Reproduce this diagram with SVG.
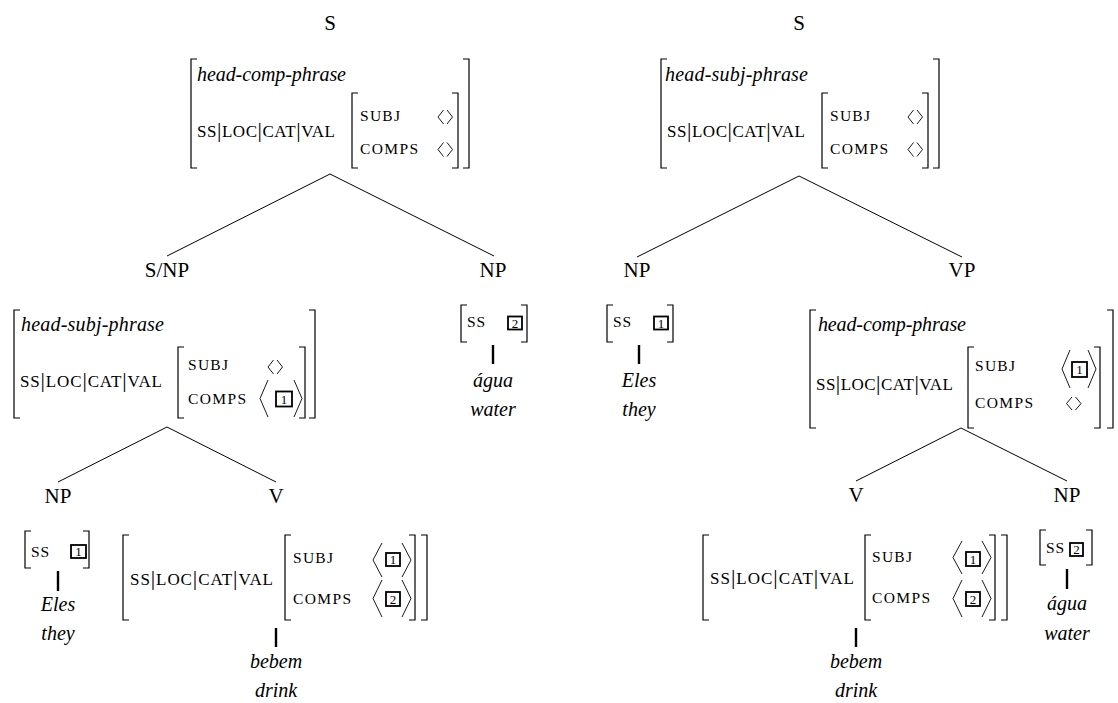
<svg xmlns="http://www.w3.org/2000/svg" width="1118" height="703" viewBox="0 0 1118 703">
<style>
text{font-family:"Liberation Serif","DejaVu Serif",serif;fill:#000}
.lbl{font-size:21px;text-anchor:middle}
.it{font-style:italic;font-size:20px}
.itc{font-style:italic;font-size:20px;text-anchor:middle}
.pth{font-size:17px}
.bar{font-size:22px}
.sc{font-size:15.5px}
.num{font-size:13px;text-anchor:middle}
.br{fill:none;stroke:#000;stroke-width:1.2}
.ang{fill:none;stroke:#000;stroke-width:0.9}
.box{fill:none;stroke:#000;stroke-width:1.8}
.tree{stroke:#000;stroke-width:1;fill:none}
.lex{stroke:#000;stroke-width:2.4}
</style>

<g id="connectors">
<line class="tree" x1="330" y1="174" x2="167" y2="256"/>
<line class="tree" x1="330" y1="174" x2="494" y2="256"/>
<line class="tree" x1="799" y1="176" x2="637" y2="257"/>
<line class="tree" x1="799" y1="176" x2="962" y2="257"/>
<line class="tree" x1="167" y1="427" x2="58" y2="482"/>
<line class="tree" x1="167" y1="427" x2="276" y2="482"/>
<line class="tree" x1="961" y1="428" x2="856" y2="481"/>
<line class="tree" x1="961" y1="428" x2="1067" y2="481"/>
<line class="lex" x1="493" y1="345" x2="493" y2="364"/>
<line class="lex" x1="639" y1="345" x2="639" y2="364"/>
<line class="lex" x1="58" y1="571" x2="58" y2="591"/>
<line class="lex" x1="276" y1="628" x2="276" y2="647"/>
<line class="lex" x1="856" y1="628" x2="856" y2="647"/>
<line class="lex" x1="1067" y1="569" x2="1067" y2="589"/>
</g>

<g id="node-S-left">
<text class="lbl" x="330" y="30">S</text>
<path class="br" d="M197,59 H191 V168 H197 M463,59 H469 V168 H463"/>
<text class="it" x="197" y="81" textLength="149" lengthAdjust="spacing">head-comp-phrase</text>
<text class="pth" x="197" y="137" textLength="138" lengthAdjust="spacing">SS<tspan class="bar">|</tspan>LOC<tspan class="bar">|</tspan>CAT<tspan class="bar">|</tspan>VAL</text>
<path class="br" d="M358,93 H352 V168 H358 M452,93 H458 V168 H452"/>
<text class="sc" x="360" y="121" textLength="40" lengthAdjust="spacing">SUBJ</text>
<text class="sc" x="360" y="154" textLength="58" lengthAdjust="spacing">COMPS</text>
<path class="ang" d="M443.5,110 L438,117 L443.5,124 M447,110 L452.5,117 L447,124"/>
<path class="ang" d="M443.5,142.5 L438,149.5 L443.5,156.5 M447,142.5 L452.5,149.5 L447,156.5"/>
</g>

<g id="node-SNP">
<text class="lbl" x="167" y="277">S/NP</text>
<path class="br" d="M20,310 H14 V418 H20 M309,310 H315 V418 H309"/>
<text class="it" x="21" y="331" textLength="143" lengthAdjust="spacing">head-subj-phrase</text>
<text class="pth" x="20" y="387" textLength="142" lengthAdjust="spacing">SS<tspan class="bar">|</tspan>LOC<tspan class="bar">|</tspan>CAT<tspan class="bar">|</tspan>VAL</text>
<path class="br" d="M184,347 H178 V418 H184 M299,347 H305 V418 H299"/>
<text class="sc" x="188" y="370" textLength="40" lengthAdjust="spacing">SUBJ</text>
<text class="sc" x="188" y="404" textLength="58" lengthAdjust="spacing">COMPS</text>
<path class="ang" d="M273.5,360 L268,367 L273.5,374 M277,360 L282.5,367 L277,374"/>
<path class="ang" d="M268,380 L260,398.5 L268,417 M294,380 L302,398.5 L294,417"/>
<rect class="box" x="276" y="391.5" width="16" height="15"/>
<text class="num" x="284" y="404">1</text>
</g>

<g id="node-NP-agua-1">
<text class="lbl" x="493" y="277">NP</text>
<path class="br" d="M467,305 H461 V342 H467 M521,305 H527 V342 H521"/>
<text class="sc" x="467" y="327" textLength="18" lengthAdjust="spacing">SS</text>
<rect class="box" x="508" y="316.5" width="14" height="13"/>
<text class="num" x="515" y="327.5">2</text>
<text class="itc" x="493" y="387">água</text>
<text class="itc" x="493" y="416">water</text>
</g>

<g id="node-NP-eles-1">
<text class="lbl" x="58" y="503">NP</text>
<path class="br" d="M31,531 H25 V568 H31 M83,531 H89 V568 H83"/>
<text class="sc" x="31" y="557" textLength="18" lengthAdjust="spacing">SS</text>
<rect class="box" x="71" y="545" width="15" height="13"/>
<text class="num" x="78.5" y="556">1</text>
<text class="itc" x="58" y="611">Eles</text>
<text class="itc" x="58" y="640">they</text>
</g>

<g id="node-V-1">
<text class="lbl" x="276" y="503">V</text>
<path class="br" d="M129,535 H123 V620 H129 M421,535 H427 V620 H421"/>
<text class="pth" x="130" y="585" textLength="143" lengthAdjust="spacing">SS<tspan class="bar">|</tspan>LOC<tspan class="bar">|</tspan>CAT<tspan class="bar">|</tspan>VAL</text>
<path class="br" d="M291,535 H285 V620 H291 M409,535 H415 V620 H409"/>
<text class="sc" x="293" y="563" textLength="40" lengthAdjust="spacing">SUBJ</text>
<text class="sc" x="293" y="604" textLength="58" lengthAdjust="spacing">COMPS</text>
<path class="ang" d="M382,543 L373,560 L382,577 M402,543 L411,560 L402,577"/>
<rect class="box" x="386" y="553" width="14" height="13"/>
<text class="num" x="393" y="564">1</text>
<path class="ang" d="M382,580 L373,598.5 L382,617 M402,580 L411,598.5 L402,617"/>
<rect class="box" x="386" y="592" width="14" height="14"/>
<text class="num" x="393" y="603.5">2</text>
<text class="itc" x="276" y="668">bebem</text>
<text class="itc" x="276" y="697">drink</text>
</g>

<g id="node-S-right">
<text class="lbl" x="799" y="30">S</text>
<path class="br" d="M667,59 H661 V168 H667 M933,59 H939 V168 H933"/>
<text class="it" x="665" y="81" textLength="143" lengthAdjust="spacing">head-subj-phrase</text>
<text class="pth" x="667" y="137" textLength="138" lengthAdjust="spacing">SS<tspan class="bar">|</tspan>LOC<tspan class="bar">|</tspan>CAT<tspan class="bar">|</tspan>VAL</text>
<path class="br" d="M828,93 H822 V168 H828 M922,93 H928 V168 H922"/>
<text class="sc" x="830" y="121" textLength="40" lengthAdjust="spacing">SUBJ</text>
<text class="sc" x="830" y="154" textLength="58" lengthAdjust="spacing">COMPS</text>
<path class="ang" d="M913.5,110 L908,117 L913.5,124 M917,110 L922.5,117 L917,124"/>
<path class="ang" d="M913.5,142.5 L908,149.5 L913.5,156.5 M917,142.5 L922.5,149.5 L917,156.5"/>
</g>

<g id="node-NP-eles-2">
<text class="lbl" x="637" y="277">NP</text>
<path class="br" d="M613,305 H607 V342 H613 M667,305 H673 V342 H667"/>
<text class="sc" x="613" y="327" textLength="18" lengthAdjust="spacing">SS</text>
<rect class="box" x="654" y="316.5" width="14" height="13"/>
<text class="num" x="661" y="327.5">1</text>
<text class="itc" x="639" y="387">Eles</text>
<text class="itc" x="639" y="416">they</text>
</g>

<g id="node-VP">
<text class="lbl" x="962" y="277">VP</text>
<path class="br" d="M816,310 H810 V428 H816 M1107,310 H1113 V428 H1107"/>
<text class="it" x="818" y="331" textLength="148" lengthAdjust="spacing">head-comp-phrase</text>
<text class="pth" x="816" y="390" textLength="137" lengthAdjust="spacing">SS<tspan class="bar">|</tspan>LOC<tspan class="bar">|</tspan>CAT<tspan class="bar">|</tspan>VAL</text>
<path class="br" d="M974,347 H968 V428 H974 M1094,347 H1100 V428 H1094"/>
<text class="sc" x="975" y="371" textLength="40" lengthAdjust="spacing">SUBJ</text>
<text class="sc" x="975" y="408" textLength="58" lengthAdjust="spacing">COMPS</text>
<path class="ang" d="M1070,350 L1062,369 L1070,388 M1088,350 L1096,369 L1088,388"/>
<rect class="box" x="1072" y="362" width="15" height="15"/>
<text class="num" x="1079.5" y="374">1</text>
<path class="ang" d="M1072,397 L1066.5,403.5 L1072,410 M1075.5,397 L1081,403.5 L1075.5,410"/>
</g>

<g id="node-V-2">
<text class="lbl" x="856" y="502">V</text>
<path class="br" d="M709,535 H703 V620 H709 M1001,535 H1007 V620 H1001"/>
<text class="pth" x="710" y="584" textLength="144" lengthAdjust="spacing">SS<tspan class="bar">|</tspan>LOC<tspan class="bar">|</tspan>CAT<tspan class="bar">|</tspan>VAL</text>
<path class="br" d="M871,535 H865 V620 H871 M989,535 H995 V620 H989"/>
<text class="sc" x="872" y="562" textLength="40" lengthAdjust="spacing">SUBJ</text>
<text class="sc" x="872" y="603" textLength="58" lengthAdjust="spacing">COMPS</text>
<path class="ang" d="M962,541 L953,557.5 L962,574 M982,541 L991,557.5 L982,574"/>
<rect class="box" x="966" y="552" width="14" height="14"/>
<text class="num" x="973" y="563.5">1</text>
<path class="ang" d="M962,580 L953,598.5 L962,617 M982,580 L991,598.5 L982,617"/>
<rect class="box" x="966" y="592" width="14" height="14"/>
<text class="num" x="973" y="603.5">2</text>
<text class="itc" x="856" y="668">bebem</text>
<text class="itc" x="856" y="697">drink</text>
</g>

<g id="node-NP-agua-2">
<text class="lbl" x="1067" y="502">NP</text>
<path class="br" d="M1046,530 H1040 V565 H1046 M1086,530 H1092 V565 H1086"/>
<text class="sc" x="1046" y="553" textLength="18" lengthAdjust="spacing">SS</text>
<rect class="box" x="1070" y="543" width="13" height="13"/>
<text class="num" x="1076.5" y="554">2</text>
<text class="itc" x="1067" y="610">água</text>
<text class="itc" x="1067" y="640">water</text>
</g>
</svg>
